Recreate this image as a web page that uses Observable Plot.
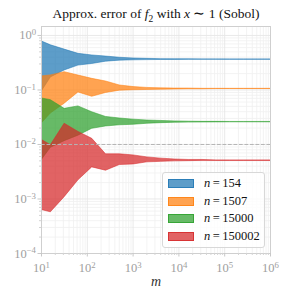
<!DOCTYPE html>
<html><head><meta charset="utf-8">
<script src="https://cdn.jsdelivr.net/npm/d3@7"></script>
<script src="https://cdn.jsdelivr.net/npm/@observablehq/plot@0.6"></script>
<style>
body{margin:0;background:#fff;font-family:"Liberation Serif",serif;}
#wrap{position:relative;width:288px;height:298px;overflow:hidden;}
#title{box-sizing:border-box;width:288px;height:24px;line-height:27px;text-align:center;font-size:13.5px;color:#111;padding-left:24px;white-space:nowrap;}
#title sub{font-size:0.7em;line-height:0;}
#legend{position:absolute;left:162px;top:172px;width:103px;height:76px;box-sizing:border-box;border:1px solid #d8d8d8;border-radius:3px;background:rgba(255,255,255,0.8);}
.row{position:absolute;left:5px;height:10px;}
.sw{position:absolute;left:0;top:0;width:26px;height:9px;box-sizing:border-box;}
.lb{position:absolute;left:36px;top:-4px;font-size:12.5px;color:#111;white-space:nowrap;line-height:16px;}
svg text{font-family:"Liberation Serif",serif;}
</style></head>
<body>
<div id="wrap">
<div id="title">Approx. error of <i>f</i><sub>2</sub> with <i>x</i> ∼ 1 (Sobol)</div>
<div id="chart"></div>
<div id="legend"></div>
</div>
<script>
const m = [10, 16, 32, 64, 128, 256, 512, 1024, 2048, 4096, 8192, 16384, 32768, 65536, 131072, 262144, 524288, 1048576];
const blueHi = [0.78, 0.66, 0.55, 0.46, 0.43, 0.41, 0.39, 0.378, 0.372, 0.368, 0.366, 0.365, 0.364, 0.364, 0.363, 0.363, 0.363, 0.363];
const blueLo = [0.092, 0.17, 0.228, 0.28, 0.30, 0.33, 0.345, 0.35, 0.353, 0.355, 0.356, 0.357, 0.358, 0.358, 0.358, 0.358, 0.358, 0.358];
const orangeHi = [0.177, 0.185, 0.212, 0.184, 0.16, 0.143, 0.121, 0.113, 0.109, 0.107, 0.106, 0.106, 0.105, 0.105, 0.105, 0.105, 0.105, 0.105];
const orangeLo = [0.024, 0.037, 0.056, 0.09, 0.075, 0.088, 0.097, 0.099, 0.1, 0.101, 0.102, 0.103, 0.103, 0.104, 0.104, 0.104, 0.104, 0.104];
const greenHi = [0.07, 0.065, 0.045, 0.05, 0.039, 0.032, 0.030, 0.0285, 0.0275, 0.027, 0.0265, 0.0262, 0.026, 0.026, 0.0259, 0.0259, 0.0259, 0.0259];
const greenLo = [0.0051, 0.0087, 0.0115, 0.0145, 0.0194, 0.0214, 0.0225, 0.023, 0.024, 0.0246, 0.025, 0.0252, 0.0253, 0.0254, 0.0255, 0.0255, 0.0255, 0.0255];
const redHi = [0.0122, 0.0097, 0.024, 0.017, 0.0127, 0.0066, 0.0066, 0.0063, 0.0058, 0.0055, 0.0053, 0.0052, 0.0052, 0.0051, 0.0051, 0.0051, 0.0051, 0.0051];
const redLo = [0.00063, 0.00057, 0.00108, 0.0022, 0.0038, 0.0033, 0.0042, 0.0043, 0.0047, 0.0048, 0.0049, 0.00495, 0.005, 0.005, 0.005, 0.005, 0.005, 0.005];
const seriesNames = ["n=154", "n=1507", "n=15000", "n=150002"];
const seriesN = ["154", "1507", "15000", "150002"];
const colors = ["#1f77b4", "#ff7f0e", "#2ca02c", "#d62728"];
const refLine = [0.01];
const xTicks = [1e1, 1e2, 1e3, 1e4, 1e5, 1e6];
const xTickExp = [1, 2, 3, 4, 5, 6];
const yTicks = [1e-4, 1e-3, 1e-2, 1e-1, 1e0];
const yTickExp = [-4, -3, -2, -1, 0];

const his = [blueHi, orangeHi, greenHi, redHi];
const los = [blueLo, orangeLo, greenLo, redLo];
const bands = his.map((hi, s) => m.map((mv, i) => ({m: mv, lo: los[s][i], hi: hi[i]})));

const xMinor = [];
for (let e = 1; e < 6; e++) for (let k = 2; k <= 9; k++) xMinor.push(k * Math.pow(10, e));
const yMinor = [];
for (let e = -4; e <= 0; e++) for (let k = 2; k <= 9; k++) { const v = k * Math.pow(10, e); if (v < 1.46) yMinor.push(v); }

const supFmt = (ticks, exps) => v => { const i = ticks.indexOf(v); return "10^" + exps[i]; };

const chart = Plot.plot({
  width: 288,
  height: 274,
  marginTop: 2,
  marginBottom: 45,
  marginLeft: 41,
  marginRight: 18,
  style: {fontFamily: "'Liberation Serif', serif", background: "#fff", overflow: "visible"},
  x: {type: "log", domain: [10, 1e6]},
  y: {type: "log", domain: [1e-4, 1.46]},
  marks: [
    Plot.ruleX(xMinor, {stroke: "#f0f0f0", strokeWidth: 0.8}),
    Plot.ruleY(yMinor, {stroke: "#f0f0f0", strokeWidth: 0.8}),
    Plot.ruleX(xTicks, {stroke: "#e6e6e6", strokeWidth: 0.9}),
    Plot.ruleY(yTicks, {stroke: "#e6e6e6", strokeWidth: 0.9}),
    ...bands.map((b, s) => Plot.areaY(b, {x: "m", y1: "lo", y2: "hi", fill: colors[s], fillOpacity: 0.72, stroke: colors[s], strokeOpacity: 0.75, strokeWidth: 0.7, clip: true})),
    Plot.ruleY(refLine, {stroke: "#b4b4b4", strokeWidth: 1, strokeDasharray: "3.7,1.8"}),
    Plot.frame({stroke: "#cfcfcf", strokeWidth: 1}),
    Plot.axisX(xTicks, {tickFormat: supFmt(xTicks, xTickExp), tickSize: 3.5, tickPadding: 6, stroke: "#c8c8c8", color: "#a0a0a0", fontSize: 12.5, label: null}),
    Plot.axisX(xMinor, {tickFormat: null, tickSize: 2, stroke: "#d4d4d4", label: null}),
    Plot.axisY(yTicks, {tickFormat: supFmt(yTicks, yTickExp), tickSize: 3.5, tickPadding: 2, stroke: "#c8c8c8", color: "#a0a0a0", fontSize: 12.5, label: null}),
    Plot.axisY(yMinor, {tickFormat: null, tickSize: 2, stroke: "#d4d4d4", label: null}),
    Plot.text(["m"], {frameAnchor: "bottom", dy: 32, fontStyle: "italic", fontSize: 14, fill: "#333"})
  ]
});
document.getElementById("chart").appendChild(chart);

d3.select(chart).selectAll("text").each(function() {
  const t = this.textContent;
  const mt = /^10\^(-?\d+)$/.exec(t);
  if (mt) {
    const e = mt[1].replace("-", "\u2212");
    const sel = d3.select(this);
    sel.text("10");
    sel.append("tspan").attr("dy", "-0.5em").attr("font-size", "0.7em").text(e);
  }
});

const leg = document.getElementById("legend");
seriesN.forEach((nv, s) => {
  const row = document.createElement("div");
  row.className = "row";
  row.style.top = (6 + s * 17.5) + "px";
  const c = d3.color(colors[s]);
  const sw = document.createElement("div");
  sw.className = "sw";
  sw.style.background = `rgba(${c.r},${c.g},${c.b},0.72)`;
  sw.style.border = `0.8px solid rgba(${c.r},${c.g},${c.b},0.8)`;
  const lb = document.createElement("div");
  lb.className = "lb";
  lb.innerHTML = "<i>n</i>\u2009=\u2009" + nv;
  lb.setAttribute("title", seriesNames[s]);
  row.appendChild(sw); row.appendChild(lb);
  leg.appendChild(row);
});
</script>
</body></html>
